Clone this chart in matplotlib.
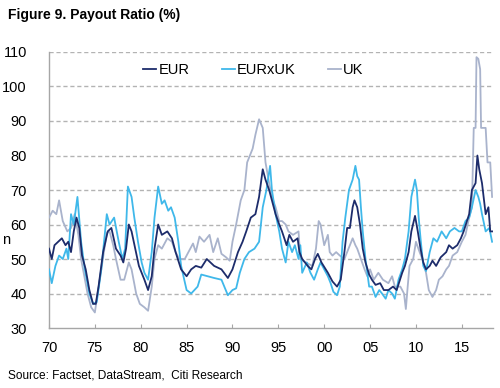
import matplotlib.pyplot as plt
from matplotlib.ticker import FixedLocator

# payout ratio (year, %)
eur_years = [1970.0, 1970.3, 1970.6, 1971.0, 1971.4, 1971.8, 1972.1, 1972.4, 1972.7, 1973.0, 1973.3, 1973.6,
             1974.0, 1974.4, 1974.8, 1975.1, 1975.4, 1975.9, 1976.4, 1976.8, 1977.3, 1977.8, 1978.1, 1978.4,
             1978.7, 1979.0, 1979.4, 1979.8, 1980.4, 1980.8, 1981.2, 1981.5, 1981.9, 1982.3, 1982.9, 1983.4,
             1983.8, 1984.4, 1985.0, 1985.5, 1986.0, 1986.6, 1987.2, 1987.6, 1988.0, 1988.8, 1989.5, 1990.0,
             1990.6, 1991.1, 1991.5, 1992.0, 1992.5, 1992.9, 1993.3, 1993.6, 1994.0, 1994.3, 1994.7, 1995.1,
             1995.4, 1995.9, 1996.2, 1996.6, 1997.1, 1997.3, 1997.6, 1998.2, 1998.6, 1999.0, 1999.3, 1999.7,
             2000.4, 2000.9, 2001.4, 2001.8, 2002.2, 2002.5, 2002.8, 2003.1, 2003.3, 2003.6, 2003.9, 2004.2,
             2004.5, 2004.9, 2005.2, 2005.6, 2006.1, 2006.5, 2007.0, 2007.5, 2007.9, 2008.5, 2008.8, 2009.2,
             2009.5, 2009.9, 2010.2, 2010.5, 2010.8, 2011.1, 2011.5, 2011.8, 2012.2, 2012.7, 2013.3, 2013.6,
             2014.0, 2014.5, 2014.9, 2015.2, 2015.8, 2016.1, 2016.5, 2016.7, 2016.9, 2017.2, 2017.6, 2017.9,
             2018.1, 2018.3]
eur_vals = [53, 50, 54, 55, 56, 54, 55, 52, 58, 62, 59, 51,
            47, 41, 37, 37, 42, 52, 58, 59, 53, 51, 49, 53,
            60, 58, 53, 48, 44, 41, 45, 53, 60, 57, 58, 56,
            52, 47, 45, 47, 48, 47.5, 50, 49, 48, 47, 44.5, 47,
            52, 55, 58, 62, 63, 68, 76, 73, 70, 67, 63, 60,
            58, 54, 57, 55, 56, 52, 50, 48, 47, 50, 51.5, 49,
            46, 43.5, 42, 44, 52, 59, 59, 65, 67, 65, 60, 53,
            49, 45.5, 44, 42.5, 43, 41, 41, 42, 41, 46, 48, 52,
            58, 62.5, 58, 53, 49, 47, 48, 49.5, 48, 50.5, 52, 54,
            53, 54, 56, 58, 63, 70, 72, 80, 76, 72, 63, 65,
            58, 58]

exuk_years = [1970.0, 1970.3, 1970.7, 1971.1, 1971.5, 1971.9, 1972.1, 1972.4, 1972.7, 1973.1, 1973.5, 1973.9,
              1974.4, 1974.8, 1975.2, 1975.7, 1976.0, 1976.3, 1976.6, 1977.1, 1977.6, 1978.0, 1978.3, 1978.6,
              1979.0, 1979.3, 1979.7, 1980.1, 1980.4, 1980.8, 1981.2, 1981.5, 1981.9, 1982.3, 1982.6, 1983.0,
              1983.3, 1983.7, 1984.1, 1984.4, 1985.0, 1985.5, 1986.2, 1986.6, 1987.3, 1988.0, 1988.8, 1989.5,
              1990.0, 1990.4, 1990.8, 1991.3, 1991.8, 1992.4, 1992.9, 1993.3, 1993.7, 1994.1, 1994.3, 1994.7,
              1995.1, 1995.4, 1995.8, 1996.1, 1996.5, 1996.8, 1997.2, 1997.4, 1997.6, 1998.1, 1998.5, 1998.9,
              1999.3, 1999.6, 2000.0, 2000.4, 2000.7, 2001.0, 2001.4, 2001.7, 2002.0, 2002.3, 2002.7, 2003.1,
              2003.4, 2003.6, 2003.8, 2004.0, 2004.2, 2004.5, 2004.9, 2005.2, 2005.6, 2006.0, 2006.3, 2006.7,
              2007.0, 2007.4, 2007.7, 2008.1, 2008.5, 2008.8, 2009.2, 2009.5, 2009.9, 2010.1, 2010.3, 2010.5,
              2010.8, 2011.1, 2011.5, 2011.9, 2012.3, 2012.8, 2013.3, 2013.7, 2014.2, 2014.7, 2015.0, 2015.4,
              2015.8, 2016.1, 2016.5, 2016.8, 2017.0, 2017.2, 2017.6, 2018.0, 2018.3]
exuk_vals = [47, 43, 48, 51, 50, 53, 50, 63, 60, 68, 55, 47,
             40, 37, 37.5, 47, 55, 63, 60, 62, 55, 50, 53, 71,
             68, 62, 55, 49, 46, 44, 52, 62, 71, 66, 67, 64,
             65, 62, 55, 48, 41, 40, 42, 45.5, 45, 44.5, 44, 39.5,
             41, 41.5, 46, 50, 52, 53, 55, 65, 70, 77, 70, 63,
             58, 53, 49, 55, 52, 54, 50, 54, 46, 49, 46, 44,
             47, 49, 47, 45, 43, 40.5, 39.5, 42, 55, 62, 70, 73,
             77, 74, 73, 65, 58, 50, 42, 42, 39, 41, 40, 38.5,
             41, 40, 38.5, 44, 47, 50, 58, 68, 73, 70, 62, 56,
             48, 46.5, 52, 56, 55, 58, 56, 58, 59, 58, 58, 61,
             62, 65, 70, 68, 66, 63, 58, 59, 55]

uk_years = [1970.0, 1970.4, 1970.8, 1971.1, 1971.5, 1972.0, 1972.4, 1972.8, 1973.2, 1973.5, 1974.2, 1974.6,
            1975.0, 1975.3, 1975.7, 1976.3, 1976.6, 1977.0, 1977.3, 1977.8, 1978.2, 1978.7, 1979.0, 1979.5,
            1979.9, 1980.4, 1980.8, 1981.2, 1981.5, 1981.9, 1982.3, 1982.9, 1983.4, 1983.8, 1984.2, 1984.8,
            1985.2, 1985.7, 1986.0, 1986.4, 1986.9, 1987.5, 1987.9, 1988.4, 1988.8, 1989.3, 1989.7, 1990.0,
            1990.4, 1990.9, 1991.3, 1991.6, 1992.2, 1992.5, 1992.9, 1993.3, 1993.6, 1994.0, 1994.3, 1994.7,
            1995.1, 1995.4, 1995.8, 1996.1, 1996.6, 1997.2, 1997.4, 1998.0, 1998.7, 1999.1, 1999.4, 1999.6,
            2000.0, 2000.4, 2000.6, 2000.9, 2001.3, 2001.7, 2002.2, 2002.5, 2002.8, 2003.1, 2003.4, 2003.6,
            2004.0, 2004.4, 2004.7, 2005.0, 2005.4, 2005.9, 2006.4, 2007.0, 2007.4, 2007.7, 2008.3, 2008.7,
            2008.9, 2009.1, 2009.3, 2009.7, 2010.0, 2010.4, 2010.7, 2011.1, 2011.4, 2011.8, 2012.2, 2012.5,
            2012.9, 2013.3, 2013.6, 2014.0, 2014.5, 2015.0, 2015.4, 2015.8, 2016.1, 2016.3, 2016.5, 2016.6,
            2016.8, 2017.0, 2017.1, 2017.6, 2017.8, 2018.1, 2018.3]
uk_vals = [62, 64, 63, 67, 61, 58, 59, 63, 57, 50, 40, 36,
           34.5, 40, 47, 57.5, 58, 54, 50, 44, 44, 49, 47, 40,
           37, 36, 35, 42, 50, 54, 53, 56, 55, 52, 50, 50,
           52, 54.5, 52, 56.5, 55, 57, 52, 56, 51.5, 50.5, 49.5, 55,
           60, 67, 70, 78, 82, 86, 90.5, 88, 78, 72, 68, 65,
           61, 61, 60, 58, 57, 58, 50, 49, 48, 53, 61, 60,
           54, 57, 52, 51, 52, 51, 50, 52, 54, 56, 54, 53,
           50, 47, 45, 47, 44, 46, 44, 43, 45, 42, 42, 40,
           35.5, 42, 48, 50, 55, 52, 50, 46, 41, 39, 41, 44,
           45, 47, 48, 51, 52, 55, 57, 62, 65, 88, 88, 108.5,
           108, 105, 88, 88, 78, 78, 68]

x_ticks = [1970, 1975, 1980, 1985, 1990, 1995, 2000, 2005, 2010, 2015]
x_tick_labels = ['70', '75', '80', '85', '90', '95', '00', '05', '10', '15']
y_ticks = [30, 40, 50, 60, 70, 80, 90, 100, 110]

plt.rcParams['font.family'] = ['Liberation Sans', 'DejaVu Sans']

fig = plt.figure(figsize=(5, 3.88), dpi=100)
ax = fig.add_axes([0.098, 0.1546, 0.888, 0.7114])

ax.plot(uk_years, uk_vals, color='#a9b3cc', lw=1.3, label='UK', zorder=3)
ax.plot(exuk_years, exuk_vals, color='#3fb8ea', lw=1.3, label='EURxUK', zorder=4)
ax.plot(eur_years, eur_vals, color='#1d2c6b', lw=1.3, label='EUR', zorder=5)

ax.set_xlim(1970, 2018.4)
ax.set_ylim(30, 110)
ax.xaxis.set_major_locator(FixedLocator(x_ticks))
ax.set_xticklabels(x_tick_labels)
ax.set_yticks(y_ticks)

for y in y_ticks[1:]:
    ax.axhline(y, color='#b3b3b3', lw=1.0, ls=(0, (3, 2)), zorder=1)

for s in ['top', 'right']:
    ax.spines[s].set_visible(False)
for s in ['left', 'bottom']:
    ax.spines[s].set_color('#a6a6a6')
    ax.spines[s].set_linewidth(1.0)

ax.tick_params(axis='x', direction='in', length=3, color='#a6a6a6', pad=9, labelsize=10.5)
ax.tick_params(axis='y', length=0, pad=16, labelsize=10.5)

handles, labels = ax.get_legend_handles_labels()
order = [2, 1, 0]
ax.legend([handles[i] for i in order], [labels[i] for i in order], ncol=3, frameon=False,
          loc='center', bbox_to_anchor=(0.46, 0.935), handlelength=0.9, handletextpad=0.15,
          columnspacing=2.2, fontsize=10.5)

fig.text(0.016, 0.962, 'Figure 9. Payout Ratio (%)', fontsize=10, fontweight='bold', va='center')
fig.text(0.016, 0.033, 'Source: Factset, DataStream,  Citi Research', fontsize=8.6, va='center')
fig.text(0.004, 0.382, 'n', fontsize=10.5, va='center')

fig.savefig('out.png', dpi=100)
